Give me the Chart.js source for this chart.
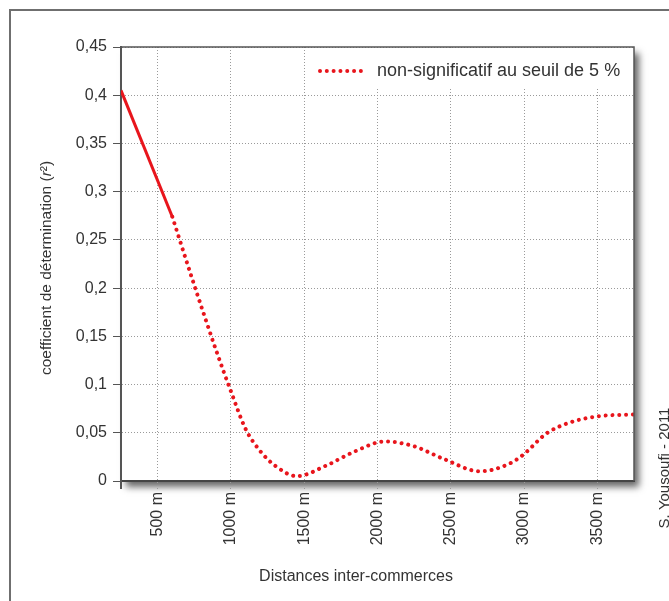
<!DOCTYPE html>
<html>
<head>
<meta charset="utf-8">
<script src="https://cdn.jsdelivr.net/npm/chart.js@4"></script>
<style>
    html, body { margin: 0; padding: 0; background: #fff; overflow: hidden; }
    #wrap { position: relative; width: 669px; height: 601px; }
    #frame { position: absolute; left: 9px; top: 9px; width: 700px; height: 640px; border: 2px solid #6f6f6f; }
    #chart { position: absolute; left: 0; top: 0; }
</style>
</head>
<body>
<div id="wrap">
    <div id="frame"></div>
    <canvas id="chart" width="669" height="601"></canvas>
</div>
<script>
// --- DONNÉES ---
const solidDist = [250, 600];
const solidR2 = [0.405, 0.274];

const dottedDist = [600, 750, 900, 1000, 1100, 1200, 1300, 1450, 1650, 1850, 2050, 2250, 2450, 2700, 2900, 3000, 3150, 3300, 3500, 3750];
const dottedR2 = [0.274, 0.203, 0.135, 0.093, 0.054, 0.031, 0.016, 0.005, 0.016, 0.031, 0.041, 0.036, 0.023, 0.010, 0.018, 0.028, 0.049, 0.060, 0.067, 0.069];

const xTicks = [500, 1000, 1500, 2000, 2500, 3000, 3500];
const xTickLabels = ['500 m', '1000 m', '1500 m', '2000 m', '2500 m', '3000 m', '3500 m'];
const yTicks = [0, 0.05, 0.1, 0.15, 0.2, 0.25, 0.3, 0.35, 0.4, 0.45];
const yTickLabels = ['0', '0,05', '0,1', '0,15', '0,2', '0,25', '0,3', '0,35', '0,4', '0,45'];

const legendLabel = 'non-significatif au seuil de 5 %';
const xTitle = 'Distances inter-commerces';
const yTitleParts = ['coefficient de détermination (', 'r', '²)'];
const credit = 'S. Yousoufi - 2011';

const RED = '#e8151c';
const TXT = '#333';
const FONT = '"Liberation Sans", Arial, sans-serif';
const DOTS = [0.01, 6.8];

// --- PLUGIN : ombre, légende, titres ---
const decor = {
    id: 'decor',
    beforeDraw(chart) {
        const { ctx, chartArea: a } = chart;
        ctx.save();
        ctx.shadowColor = 'rgba(0,0,0,0.6)';
        ctx.shadowBlur = 7;
        ctx.shadowOffsetX = 5;
        ctx.shadowOffsetY = 6;
        ctx.fillStyle = '#fff';
        ctx.fillRect(a.left, a.top, a.right - a.left, a.bottom - a.top);
        ctx.restore();
    },
    beforeDatasetsDraw(chart) {
        const { ctx, chartArea: a } = chart;
        ctx.save();
        // boîte blanche de la légende
        ctx.fillStyle = '#fff';
        ctx.fillRect(a.right - 324, a.top + 1, 323, 39);
        // échantillon pointillé
        const ly = a.top + 24;
        ctx.strokeStyle = RED;
        ctx.lineWidth = 4;
        ctx.lineCap = 'round';
        ctx.setLineDash(DOTS);
        ctx.beginPath();
        ctx.moveTo(a.right - 314, ly);
        ctx.lineTo(a.right - 272, ly);
        ctx.stroke();
        ctx.setLineDash([]);
        ctx.fillStyle = TXT;
        ctx.font = '18px ' + FONT;
        ctx.textBaseline = 'middle';
        ctx.textAlign = 'left';
        ctx.fillText(legendLabel, a.right - 257, ly);
        ctx.restore();
    },
    afterDraw(chart) {
        const { ctx, chartArea: a } = chart;
        ctx.save();
        // cadre haut et droite
        ctx.strokeStyle = '#555';
        ctx.lineWidth = 1.5;
        ctx.beginPath();
        ctx.moveTo(a.left, a.top);
        ctx.lineTo(a.right, a.top);
        ctx.lineTo(a.right, a.bottom);
        ctx.stroke();
        // prolongement de l'axe y
        ctx.lineWidth = 2;
        ctx.beginPath();
        ctx.moveTo(a.left, a.bottom);
        ctx.lineTo(a.left, a.bottom + 8);
        ctx.stroke();

        ctx.fillStyle = TXT;
        ctx.textBaseline = 'middle';
        // titre x
        ctx.font = '16px ' + FONT;
        ctx.textAlign = 'center';
        ctx.fillText(xTitle, 356, 577);

        // titre y (r en italique)
        ctx.save();
        ctx.translate(47, 268);
        ctx.rotate(-Math.PI / 2);
        const fonts = ['15.5px ' + FONT, 'italic 15.5px ' + FONT, '15.5px ' + FONT];
        const widths = yTitleParts.map((p, i) => { ctx.font = fonts[i]; return ctx.measureText(p).width; });
        let x = -widths.reduce((s, w) => s + w, 0) / 2;
        ctx.textAlign = 'left';
        yTitleParts.forEach((p, i) => {
            ctx.font = fonts[i];
            ctx.fillText(p, x, 0);
            x += widths[i];
        });
        ctx.restore();

        // crédit
        ctx.save();
        ctx.translate(665, 468);
        ctx.rotate(-Math.PI / 2);
        ctx.font = '15px ' + FONT;
        ctx.textAlign = 'center';
        ctx.fillText(credit, 0, 0);
        ctx.restore();

        ctx.restore();
    }
};

const toPts = (xs, ys) => xs.map((x, i) => ({ x, y: ys[i] }));

new Chart(document.getElementById('chart'), {
    type: 'line',
    data: {
        datasets: [
            {
                label: 'significatif',
                data: toPts(solidDist, solidR2),
                borderColor: RED,
                borderWidth: 3,
                pointRadius: 0
            },
            {
                label: legendLabel,
                data: toPts(dottedDist, dottedR2),
                borderColor: RED,
                borderWidth: 4,
                borderDash: DOTS,
                borderCapStyle: 'round',
                cubicInterpolationMode: 'monotone',
                pointRadius: 0
            }
        ]
    },
    options: {
        responsive: false,
        animation: false,
        layout: { padding: { top: 47, right: 35, left: 0, bottom: 0 } },
        plugins: { legend: { display: false }, tooltip: { enabled: false } },
        scales: {
            x: {
                type: 'linear',
                min: 250,
                max: 3750,
                afterBuildTicks: (s) => { s.ticks = xTicks.map(v => ({ value: v })); },
                afterFit: (s) => { s.height = 120; },
                ticks: {
                    minRotation: 90,
                    maxRotation: 90,
                    padding: 3,
                    color: TXT,
                    font: { family: FONT, size: 16 },
                    callback: (v, i) => xTickLabels[i]
                },
                grid: { color: '#9a9a9a', tickColor: '#9a9a9a', tickLength: 8, tickBorderDash: [1, 2] },
                border: { color: '#444', width: 2, dash: [1, 2] }
            },
            y: {
                min: 0,
                max: 0.45,
                afterBuildTicks: (s) => { s.ticks = yTicks.map(v => ({ value: v })); },
                afterFit: (s) => { s.width = 121; },
                ticks: {
                    padding: 6,
                    color: TXT,
                    font: { family: FONT, size: 16 },
                    callback: (v, i) => yTickLabels[i]
                },
                grid: { color: '#9a9a9a', tickColor: '#555', tickLength: 8, tickBorderDash: [] },
                border: { color: '#555', width: 2, dash: [1, 2] }
            }
        }
    },
    plugins: [decor]
});
</script>
</body>
</html>
